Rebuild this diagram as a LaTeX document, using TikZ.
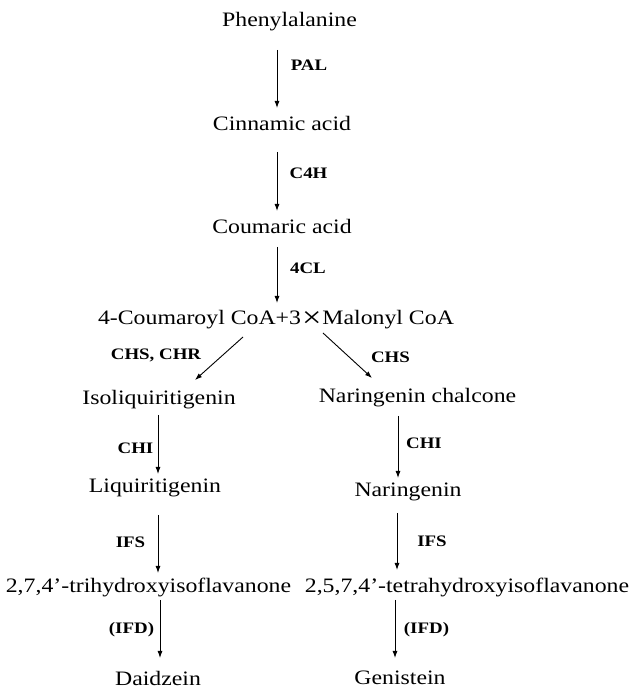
\documentclass[tikz,border=0pt]{standalone}
\usepackage{fontspec}
\setmainfont{Liberation Serif}[FakeStretch=1.16]
\newfontfamily\labfont{Liberation Serif}[FakeStretch=1.18]
\usetikzlibrary{arrows.meta}
\tikzset{
  txt/.style={font=\fontsize{20.5}{24}\selectfont, inner sep=0pt},
  lab/.style={font=\labfont\bfseries\fontsize{16}{19}\selectfont, inner sep=0pt},
  arr/.style={-{Latex[length=7pt,width=5pt]}, line width=0.9pt}
}
\begin{document}
\begin{tikzpicture}[x=1pt,y=1pt]
\useasboundingbox (0,0) rectangle (633,690);
% compounds
\node[txt] (phe) at (289.5,668) {Phenylalanine};
\node[txt] (cin) at (282,567) {Cinnamic acid};
\node[txt] (cou) at (282,464) {Coumaric acid};
\node[txt] (coa) at (276,370) {4-Coumaroyl CoA+3\kern1pt\raisebox{-3pt}{\scalebox{1.45}{×}}\kern1pt Malonyl CoA};
\node[txt] (iso) at (159,290) {Isoliquiritigenin};
\node[txt] (nch) at (417.5,292) {Naringenin chalcone};
\node[txt] (liq) at (155,202) {Liquiritigenin};
\node[txt] (nar) at (408,198) {Naringenin};
\node[txt] (tri) at (148.5,103) {2,7,4’-trihydroxyisoflavanone};
\node[txt] (tet) at (467,103) {2,5,7,4’-tetrahydroxyisoflavanone};
\node[txt] (dai) at (158,12) {Daidzein};
\node[txt] (gen) at (400,12) {Genistein};
% enzymes
\node[lab] (lpal) at (309,625) {PAL};
\node[lab] (lc4h) at (308.5,517) {C4H};
\node[lab] (l4cl) at (308,422) {4CL};
\node[lab] (lchr) at (156,335) {CHS, CHR};
\node[lab] (lchs) at (390.5,333) {CHS};
\node[lab] (lchi1) at (135.5,242) {CHI};
\node[lab] (lchi2) at (424,247) {CHI};
\node[lab] (lifs1) at (130.5,148) {IFS};
\node[lab] (lifs2) at (432,149) {IFS};
\node[lab] (lifd1) at (131.5,60) {(IFD)};
\node[lab] (lifd2) at (426.5,60) {(IFD)};
% arrows
\draw[arr] (phe.center) ++(-12.5,-28) -- ++(0,-58);
\draw[arr] (cin.center) ++(-5,-29) -- ++(0,-59);
\draw[arr] (cou.center) ++(-5,-21) -- ++(0,-56);
\draw[arr] (coa.center) ++(-33,-17) -- ++(-48,-43);
\draw[arr] (coa.center) ++(47,-13) -- ++(49,-45);
\draw[arr] (iso.center) ++(-1,-15) -- ++(0,-59);
\draw[arr] (nch.center) ++(-19.5,-18) -- ++(0,-62);
\draw[arr] (liq.center) ++(3,-27) -- ++(0,-58);
\draw[arr] (nar.center) ++(-11,-21) -- ++(0,-57);
\draw[arr] (tri.center) ++(11.5,-13) -- ++(0,-58);
\draw[arr] (tet.center) ++(-72,-13) -- ++(0,-58);
\end{tikzpicture}
\end{document}
